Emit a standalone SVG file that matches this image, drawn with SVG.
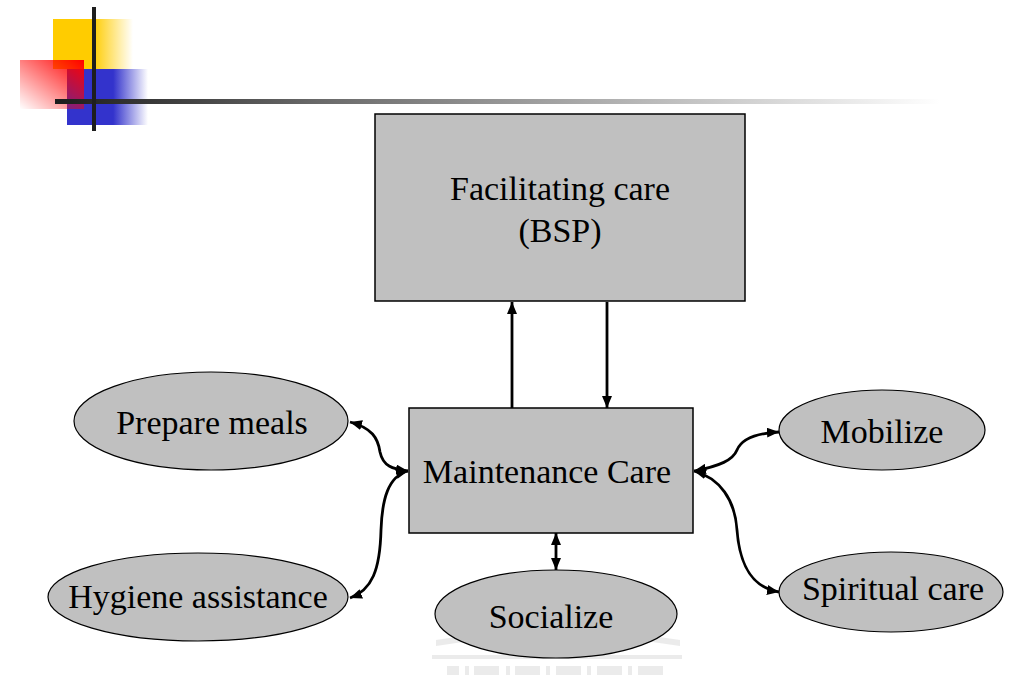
<svg xmlns="http://www.w3.org/2000/svg" width="1023" height="689" viewBox="0 0 1023 689">
  <style>
    .box { fill: #c0c0c0; stroke: #000; stroke-width: 1.5; }
    .oval { fill: #c0c0c0; stroke: #000; stroke-width: 1.2; }
    .label { font-size: 34px; fill: #000; text-anchor: middle; }
    .link { fill: none; stroke: #000; stroke-width: 2.8; }
    .crest { fill: #dcdcdc; stroke: none; }
  </style>
  <defs>
    <marker id="head" viewBox="0 0 12 10" refX="12" refY="5" markerWidth="12" markerHeight="10" markerUnits="userSpaceOnUse" orient="auto-start-reverse">
      <path d="M0,0 L12,5 L0,10 z" fill="#000"/>
    </marker>
    <linearGradient id="yellowFade" x1="0" y1="0" x2="1" y2="0">
      <stop offset="0" stop-color="#ffcc00"/>
      <stop offset="0.5" stop-color="#ffcc00"/>
      <stop offset="1" stop-color="#ffcc00" stop-opacity="0"/>
    </linearGradient>
    <linearGradient id="blueFade" x1="0" y1="0" x2="1" y2="0">
      <stop offset="0" stop-color="#3333cc"/>
      <stop offset="0.57" stop-color="#3333cc"/>
      <stop offset="1" stop-color="#3333cc" stop-opacity="0"/>
    </linearGradient>
    <linearGradient id="redFade" x1="1" y1="0" x2="0" y2="1">
      <stop offset="0" stop-color="#ff0000"/>
      <stop offset="1" stop-color="#ff0000" stop-opacity="0"/>
    </linearGradient>
    <linearGradient id="ruleFade" x1="55" y1="0" x2="940" y2="0" gradientUnits="userSpaceOnUse">
      <stop offset="0" stop-color="#1c1c1c"/>
      <stop offset="0.3" stop-color="#6a6a6a"/>
      <stop offset="1" stop-color="#ffffff"/>
    </linearGradient>
  </defs>

  <rect width="1023" height="689" fill="#ffffff"/>

  <!-- slide header ornament -->
  <g id="header">
    <rect x="53" y="19" width="80" height="50" fill="url(#yellowFade)"/>
    <rect x="67" y="69" width="81" height="56" fill="url(#blueFade)"/>
    <rect x="20" y="60" width="64" height="49" fill="url(#redFade)"/>
    <rect x="55" y="99" width="885" height="5" fill="url(#ruleFade)"/>
    <rect x="92" y="7" width="4" height="124" fill="#1e1e1e"/>
  </g>

  <!-- faint crest behind the lower node -->
  <g id="crest" opacity="0.55">
    <polygon class="crest" points="436,640 556,622 680,640 680,646 556,628 436,646"/>
    <rect class="crest" x="432" y="655" width="250" height="4"/>
    <rect class="crest" x="447" y="666" width="12" height="9"/>
    <rect class="crest" x="465" y="666" width="4" height="9"/>
    <rect class="crest" x="474" y="666" width="25" height="9"/>
    <rect class="crest" x="506" y="666" width="4" height="9"/>
    <rect class="crest" x="515" y="666" width="25" height="9"/>
    <rect class="crest" x="546" y="666" width="4" height="9"/>
    <rect class="crest" x="556" y="666" width="25" height="9"/>
    <rect class="crest" x="587" y="666" width="4" height="9"/>
    <rect class="crest" x="597" y="666" width="25" height="9"/>
    <rect class="crest" x="628" y="666" width="4" height="9"/>
    <rect class="crest" x="638" y="666" width="25" height="9"/>
  </g>

  <!-- connectors -->
  <g id="connectors">
    <path class="link" d="M512,408 L512,302" marker-end="url(#head)"/>
    <path class="link" d="M607,302 L607,408" marker-end="url(#head)"/>
    <path class="link" d="M556,533 L556,570" marker-start="url(#head)" marker-end="url(#head)"/>
    <path class="link" d="M350,422 C372,428 378,438 380,452 C383,466 392,469 408,471" marker-start="url(#head)" marker-end="url(#head)"/>
    <path class="link" d="M408,471 C388,476 382,500 381,530 C380,570 372,590 350,598" marker-start="url(#head)" marker-end="url(#head)"/>
    <path class="link" d="M694,471 C720,466 733,460 737,450 C742,438 760,433 779,432" marker-start="url(#head)" marker-end="url(#head)"/>
    <path class="link" d="M694,471 C720,478 735,500 737,530 C740,570 755,588 779,592" marker-start="url(#head)" marker-end="url(#head)"/>
  </g>

  <g font-family="'Liberation Serif', 'Times New Roman', 'DejaVu Serif', serif">
    <g id="facilitating-care">
      <rect class="box" x="375" y="114" width="370" height="187"/>
      <text class="label" x="560" y="200">Facilitating care</text>
      <text class="label" x="560" y="242">(BSP)</text>
    </g>

    <g id="maintenance-care">
      <rect class="box" x="409" y="408" width="284" height="125"/>
      <text class="label" x="547" y="483">Maintenance Care</text>
    </g>

    <g id="prepare-meals">
      <ellipse class="oval" cx="211" cy="421" rx="137" ry="49"/>
      <text class="label" x="212" y="434">Prepare meals</text>
    </g>

    <g id="hygiene-assistance">
      <ellipse class="oval" cx="198" cy="597" rx="150" ry="44"/>
      <text class="label" x="198" y="608">Hygiene assistance</text>
    </g>

    <g id="socialize">
      <ellipse class="oval" cx="556" cy="614" rx="121" ry="44"/>
      <text class="label" x="551" y="628">Socialize</text>
    </g>

    <g id="mobilize">
      <ellipse class="oval" cx="882" cy="430" rx="103" ry="40"/>
      <text class="label" x="882" y="443">Mobilize</text>
    </g>

    <g id="spiritual-care">
      <ellipse class="oval" cx="891" cy="592" rx="112" ry="40"/>
      <text class="label" x="893" y="600">Spiritual care</text>
    </g>
  </g>
</svg>
